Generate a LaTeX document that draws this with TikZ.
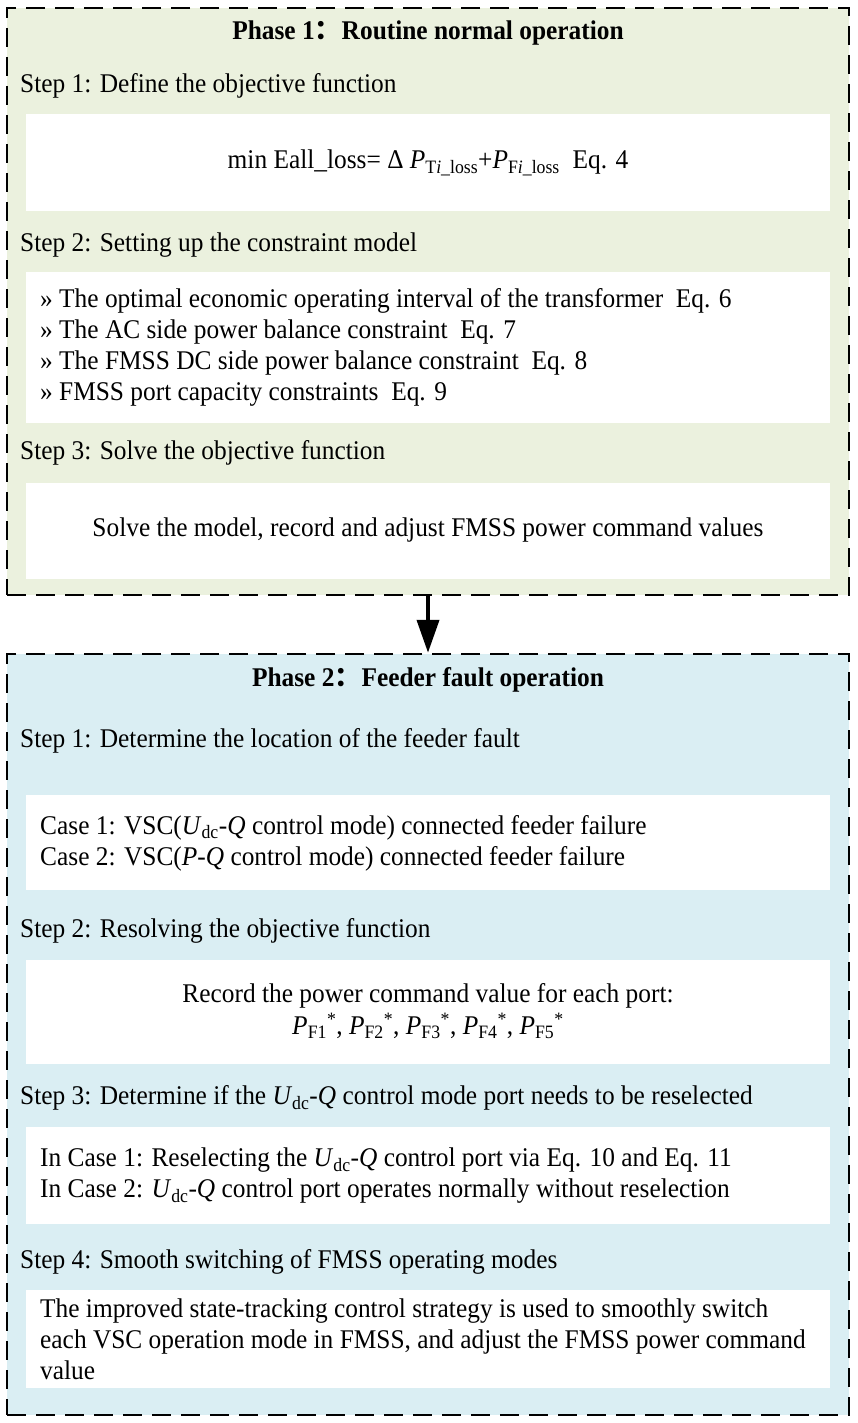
\documentclass[tikz,border=0pt]{standalone}
\usepackage{fontspec}
\setmainfont{Liberation Serif}[FakeStretch=0.94]
\newfontfamily\cjk{Noto Sans CJK SC}
\usetikzlibrary{arrows.meta}
\definecolor{greenbg}{HTML}{EBF1DE}
\definecolor{bluebg}{HTML}{DAEEF3}
\tikzset{
  phasebox/.style={draw=black, line width=2.5pt, dash pattern=on 19pt off 10pt, minimum width=842pt, inner sep=0pt},
  whitebox/.style={fill=white, draw=none, minimum width=804pt, inner sep=0pt},
  heading/.style={anchor=west, inner sep=0pt, font=\fontsize{27}{31}\selectfont},
  body/.style={anchor=west, inner sep=0pt, align=left, font=\fontsize{27}{31}\selectfont},
  bodyc/.style={inner sep=0pt, align=center, font=\fontsize{27}{32}\selectfont},
  title/.style={inner sep=0pt, font=\fontsize{27}{31}\selectfont\bfseries},
}
\begin{document}
\begin{tikzpicture}[x=1pt,y=-1pt]
\useasboundingbox (0,0) rectangle (857,1423);
% Phase 1
\node[phasebox, fill=greenbg, minimum height=587pt] (ph1) at (428,301.5) {};
\node[title] (t1) at (428,33) {Phase 1{\cjk ：}Routine normal operation};
\node[heading] (s11) at (20,86) {Step 1: Define the objective function};
\node[whitebox, minimum height=97pt] (b11) at (428,162.5) {};
\node[bodyc] (e11) at (428,163) {min Eall\_loss= Δ \textit{P}\textsubscript{T\textit{i}\_loss}+\textit{P}\textsubscript{F\textit{i}\_loss}\ \ Eq. 4};
\node[heading] (s12) at (20,245) {Step 2: Setting up the constraint model};
\node[whitebox, minimum height=151pt] (b12) at (428,347.5) {};
\node[body] (e12) at (40,347) {» The optimal economic operating interval of the transformer\ \ Eq. 6\\» The AC side power balance constraint\ \ Eq. 7\\» The FMSS DC side power balance constraint\ \ Eq. 8\\» FMSS port capacity constraints\ \ Eq. 9};
\node[heading] (s13) at (20,453) {Step 3: Solve the objective function};
\node[whitebox, minimum height=96pt] (b13) at (428,531) {};
\node[bodyc] (e13) at (428,530) {Solve the model, record and adjust FMSS power command values};
% Phase 2
\node[phasebox, fill=bluebg, minimum height=761pt] (ph2) at (428,1034.5) {};
\node[title] (t2) at (428,680) {Phase 2{\cjk ：}Feeder fault operation};
\node[heading] (s21) at (20,741) {Step 1: Determine the location of the feeder fault};
\node[whitebox, minimum height=95pt] (b21) at (428,842.5) {};
\node[body] (e21) at (40,843) {Case 1: VSC(\textit{U}\textsubscript{dc}-\textit{Q} control mode) connected feeder failure\\Case 2: VSC(\textit{P}-\textit{Q} control mode) connected feeder failure};
\node[heading] (s22) at (20,931) {Step 2: Resolving the objective function};
\node[whitebox, minimum height=104pt] (b22) at (428,1012) {};
\node[bodyc] (e22) at (428,1011) {Record the power command value for each port:\\\textit{P}\textsubscript{F1}\textsuperscript{*}, \textit{P}\textsubscript{F2}\textsuperscript{*}, \textit{P}\textsubscript{F3}\textsuperscript{*}, \textit{P}\textsubscript{F4}\textsuperscript{*}, \textit{P}\textsubscript{F5}\textsuperscript{*}};
\node[heading] (s23) at (20,1098) {Step 3: Determine if the \textit{U}\textsubscript{dc}-\textit{Q} control mode port needs to be reselected};
\node[whitebox, minimum height=97pt] (b23) at (428,1175.5) {};
\node[body] (e23) at (40,1176) {In Case 1: Reselecting the \textit{U}\textsubscript{dc}-\textit{Q} control port via Eq. 10 and Eq. 11\\In Case 2: \textit{U}\textsubscript{dc}-\textit{Q} control port operates normally without reselection};
\node[heading] (s24) at (20,1262) {Step 4: Smooth switching of FMSS operating modes};
\node[whitebox, minimum height=98pt] (b24) at (428,1339) {};
\node[body] (e24) at (40,1339) {The improved state-tracking control strategy is used to smoothly switch\\each VSC operation mode in FMSS, and adjust the FMSS power command\\value};
% Arrow
\draw[line width=4pt, -{Triangle[width=22pt,length=33pt]}] (ph1.south) -- (ph2.north);
\end{tikzpicture}
\end{document}
